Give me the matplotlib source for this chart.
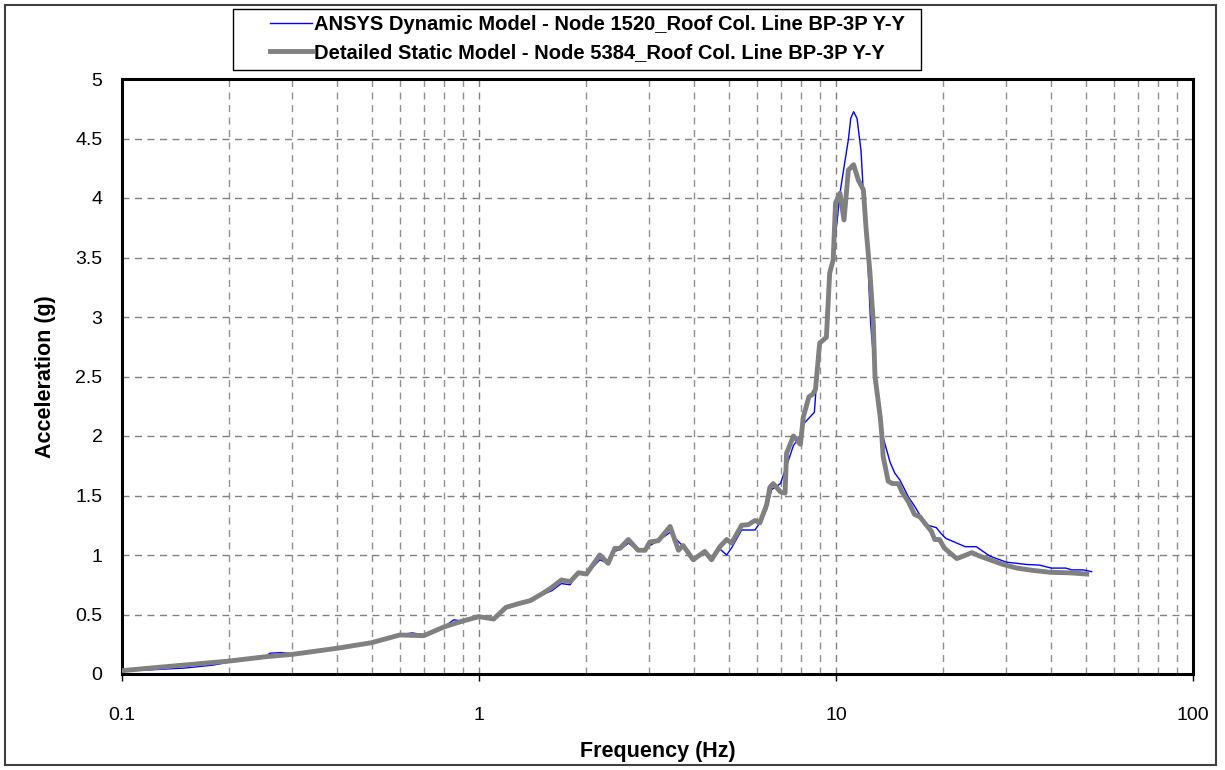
"""Frequency response at roof: ANSYS dynamic model vs detailed static model"""
import numpy as np
import matplotlib.pyplot as plt
from matplotlib.patches import Rectangle
from matplotlib.ticker import LogLocator, FixedLocator, NullFormatter

plt.rcParams['font.family'] = ['Liberation Sans', 'DejaVu Sans']

# --- data ------------------------------------------------------------
freq_dynamic = [0.1, 0.12, 0.15, 0.18, 0.2, 0.25, 0.26, 0.28, 0.3, 0.35, 0.4,
                0.5, 0.6, 0.65, 0.7, 0.8, 0.85, 0.9, 0.95, 1.0, 1.1, 1.19, 1.3,
                1.39, 1.51, 1.6, 1.7, 1.8, 1.9, 2.0, 2.18, 2.3, 2.4, 2.5, 2.62,
                2.79, 2.92, 3.01, 3.18, 3.43, 3.6, 3.8, 3.98, 4.29, 4.48, 4.73,
                4.94, 5.1, 5.44, 5.68, 5.93, 6.12, 6.39, 6.6, 6.99, 7.27, 7.6,
                7.95, 8.1, 8.4, 8.7, 8.76, 9.0, 9.4, 9.6, 9.82, 9.97, 10.26,
                10.53, 10.83, 11.0, 11.2, 11.45, 11.75, 11.95, 12.2, 12.5,
                12.9, 13.3, 13.55, 14.17, 14.6, 15.1, 15.94, 16.6, 17.3, 18.1,
                19.1, 19.7, 20.3, 21.8, 23.0, 24.7, 27.0, 30.0, 34.3, 37.2,
                40.1, 44.0, 45.8, 49.2, 52.0]
acc_dynamic = [0.03, 0.035, 0.05, 0.075, 0.10, 0.14, 0.175, 0.18, 0.17, 0.19,
               0.215, 0.265, 0.33, 0.345, 0.33, 0.40, 0.455, 0.445, 0.46, 0.47,
               0.46, 0.55, 0.59, 0.61, 0.67, 0.70, 0.76, 0.75, 0.85, 0.84,
               0.96, 0.93, 1.03, 1.05, 1.10, 1.04, 1.04, 1.08, 1.12, 1.19,
               1.12, 1.05, 0.97, 1.01, 0.96, 1.05, 1.0, 1.06, 1.21, 1.21, 1.21,
               1.27, 1.38, 1.55, 1.60, 1.75, 1.92, 2.0, 2.1, 2.15, 2.2, 2.33,
               2.78, 2.83, 3.37, 3.48, 3.68, 4.04, 4.26, 4.49, 4.67, 4.725,
               4.67, 4.40, 4.0, 3.65, 2.95, 2.47, 2.2, 1.99, 1.78, 1.69, 1.63,
               1.49, 1.41, 1.32, 1.25, 1.23, 1.18, 1.14, 1.10, 1.07, 1.07,
               0.99, 0.94, 0.92, 0.915, 0.89, 0.89, 0.875, 0.875, 0.86]

freq_static = [0.1, 0.133, 0.2, 0.254, 0.3, 0.4, 0.5, 0.6, 0.7, 0.8, 0.9, 1.0,
               1.1, 1.19, 1.3, 1.39, 1.51, 1.6, 1.7, 1.8, 1.9, 2.0, 2.18, 2.3,
               2.4, 2.48, 2.62, 2.79, 2.92, 3.01, 3.18, 3.43, 3.62, 3.73, 3.98,
               4.29, 4.48, 4.73, 4.94, 5.1, 5.44, 5.68, 5.93, 6.12, 6.39, 6.53,
               6.67, 6.99, 7.2, 7.27, 7.6, 7.95, 8.1, 8.4, 8.6, 8.76, 9.0, 9.4,
               9.6, 9.82, 9.97, 10.26, 10.53, 10.83, 11.2, 11.55, 11.93, 12.15,
               12.45, 12.72, 12.86, 13.3, 13.43, 13.55, 14.0, 14.4, 14.95,
               15.3, 15.94, 16.6, 17.2, 17.7, 18.5, 18.9, 19.5, 20.1, 20.8,
               21.8, 22.7, 24.0, 25.3, 27.0, 29.4, 32.1, 35.7, 39.7, 45.2,
               50.4]
acc_static = [0.028, 0.062, 0.109, 0.146, 0.165, 0.216, 0.263, 0.328, 0.322,
              0.397, 0.445, 0.482, 0.462, 0.56, 0.594, 0.616, 0.678, 0.728,
              0.79, 0.776, 0.851, 0.84, 1.0, 0.93, 1.056, 1.056, 1.13, 1.04,
              1.04, 1.11, 1.12, 1.24, 1.04, 1.08, 0.96, 1.03, 0.96, 1.07,
              1.13, 1.10, 1.25, 1.255, 1.29, 1.27, 1.42, 1.57, 1.60, 1.53,
              1.52, 1.855, 2.0, 1.93, 2.16, 2.33, 2.35, 2.39, 2.78, 2.83,
              3.37, 3.48, 3.96, 4.04, 3.815, 4.235, 4.28, 4.15, 4.07, 3.73,
              3.37, 2.95, 2.5, 2.16, 2.02, 1.83, 1.62, 1.60, 1.60, 1.53, 1.45,
              1.34, 1.32, 1.27, 1.20, 1.13, 1.13, 1.06, 1.02, 0.97, 0.99,
              1.02, 0.99, 0.96, 0.92, 0.89, 0.87, 0.855, 0.85, 0.84]

label_dynamic = 'ANSYS Dynamic Model - Node 1520_Roof Col. Line BP-3P Y-Y'
label_static = 'Detailed Static Model - Node 5384_Roof Col. Line BP-3P Y-Y'

# --- figure ----------------------------------------------------------
W, H = 1225, 770
fig = plt.figure(figsize=(W / 100, H / 100), dpi=100)
ax = fig.add_axes([122 / W, 1 - 674 / H, (1193 - 122) / W, (674 - 79) / H])

ax.plot(freq_dynamic, acc_dynamic, color='#0000ff', linewidth=1.0,
        label=label_dynamic, zorder=3)
ax.plot(freq_static, acc_static, color='#808080', linewidth=3.5,
        label=label_static, zorder=4, solid_joinstyle='round')

ax.set_xscale('log')
ax.set_xlim(0.1, 100)
ax.set_ylim(0, 5)
ax.set_yticks(np.arange(0, 5.01, 0.5))
ax.set_yticklabels(['0', '0.5', '1', '1.5', '2', '2.5', '3', '3.5', '4',
                    '4.5', '5'])
ax.xaxis.set_major_locator(FixedLocator([0.1, 1, 10, 100]))
ax.set_xticklabels(['0.1', '1', '10', '100'])
ax.xaxis.set_minor_locator(LogLocator(base=10, subs=np.arange(2, 10)))
ax.xaxis.set_minor_formatter(NullFormatter())

dash = (0, (5, 4))
ax.grid(True, which='major', axis='both', color='#808080',
        linestyle=dash, linewidth=1.0)
ax.grid(True, which='minor', axis='x', color='#909090',
        linestyle=dash, linewidth=1.0)
ax.set_axisbelow(True)

ax.tick_params(axis='x', which='major', length=5, width=1, pad=19,
               labelsize=14, direction='out')
ax.tick_params(axis='x', which='minor', length=0)
ax.tick_params(axis='y', length=0, pad=14, labelsize=14)

for s in ax.spines.values():
    s.set_linewidth(2.2)
    s.set_color('black')

ax.set_xlabel('Frequency (Hz)', fontsize=15.5, fontweight='bold', labelpad=12)
ax.set_ylabel('Acceleration (g)', fontsize=15.5, fontweight='bold', labelpad=14)

# legend: entries placed by hand, framed by a separate box
leg = ax.legend(loc='upper left', bbox_to_anchor=(270 / W, 1 - 15 / H),
                bbox_transform=fig.transFigure, frameon=False,
                prop={'size': 14.5, 'weight': 'bold'},
                handlelength=2.1, handletextpad=0.1, labelspacing=0.45,
                borderpad=0, borderaxespad=0)
fig.patches.append(Rectangle((233 / W, 1 - 70 / H), (921 - 233) / W,
                             (70 - 9) / H, transform=fig.transFigure,
                             fill=False, edgecolor='black', linewidth=1.0))

# outer chart border
fig.patches.append(Rectangle((5 / W, 5 / H), (1216 - 5) / W, (765 - 5) / H,
                             transform=fig.transFigure, fill=False,
                             edgecolor='#404040', linewidth=1.5))

fig.savefig('out.png', dpi=100)
